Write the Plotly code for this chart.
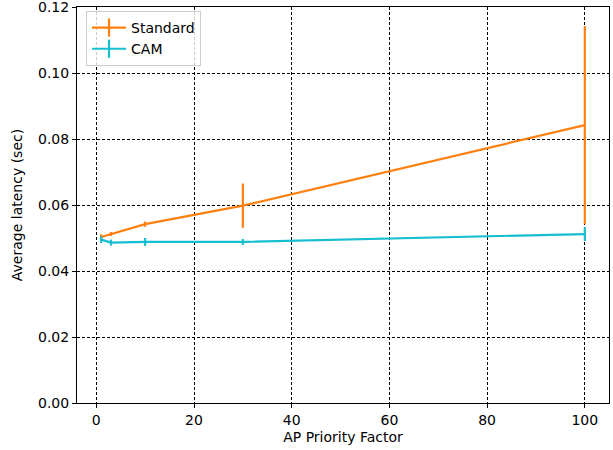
import plotly.graph_objects as go

# Data
priority_factor = [1, 3, 10, 30, 100]
standard_latency = [0.0503, 0.0512, 0.0542, 0.0598, 0.0842]
standard_err = [0.0008, 0.0006, 0.0008, 0.0067, 0.0300]
cam_latency = [0.0495, 0.0486, 0.0488, 0.0488, 0.0512]
cam_err = [0.0010, 0.0009, 0.0012, 0.0009, 0.0021]
x_ticks = [0, 20, 40, 60, 80, 100]
y_ticks = [0.00, 0.02, 0.04, 0.06, 0.08, 0.10, 0.12]

ORANGE = "#ff7f0e"
CYAN = "#17becf"
FONT = "DejaVu Sans"

fig = go.Figure()
for name, y, err, color in [("Standard", standard_latency, standard_err, ORANGE),
                            ("CAM", cam_latency, cam_err, CYAN)]:
    fig.add_trace(go.Scatter(
        x=priority_factor, y=y, mode="lines", name=name, showlegend=False,
        line=dict(color=color, width=2.2),
        error_y=dict(type="data", array=err, visible=True, color=color,
                     thickness=2.2, width=0),
    ))
for name, color in [("Standard", ORANGE), ("CAM", CYAN)]:
    fig.add_trace(go.Scatter(
        x=[None], y=[None], mode="lines+markers", name=name,
        line=dict(color=color, width=2.2),
        marker=dict(symbol="line-ns-open", size=13,
                    line=dict(color=color, width=2.2)),
    ))

axis_common = dict(
    showline=True, linecolor="black", linewidth=1, mirror=True,
    ticks="outside", ticklen=4, tickcolor="black", tickwidth=1,
    showgrid=True, gridcolor="black", griddash="3px,2px", gridwidth=0.8,
    zeroline=False, automargin=False, ticklabeloverflow="allow",
    tickfont=dict(family=FONT, size=14, color="black"),
    title_font=dict(family=FONT, size=14, color="black"),
)

fig.update_layout(
    width=613, height=450,
    margin=dict(l=77, r=4, t=7, b=47),
    paper_bgcolor="white", plot_bgcolor="white",
    font=dict(family=FONT, size=14, color="black"),
    xaxis=dict(range=[-3.95, 104.95], tickvals=x_ticks,
               title=dict(text="AP Priority Factor", standoff=5), **axis_common),
    yaxis=dict(range=[0, 0.12], tickvals=y_ticks, tickformat=".2f",
               title=dict(text="Average latency (sec)", standoff=12), **axis_common),
    legend=dict(x=0.017, y=0.99, xanchor="left", yanchor="top",
                bgcolor="rgba(255,255,255,0.8)", bordercolor="#cccccc",
                borderwidth=1, font=dict(family=FONT, size=14),
                itemwidth=34, tracegroupgap=0),
)

fig.write_html("out.html",
               config={"displayModeBar": False},
               post_script="document.body.style.margin='0px';"
                           "document.body.style.padding='0px';")
